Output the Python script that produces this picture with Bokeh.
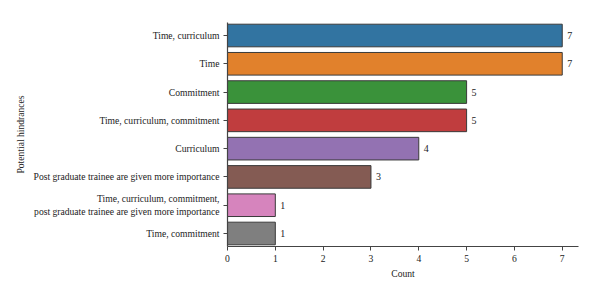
from bokeh.plotting import figure
from bokeh.models import ColumnDataSource, Range1d, FixedTicker, LabelSet
from bokeh.embed import file_html
from bokeh.resources import INLINE

# Reported hindrances and how many respondents named each one
hindrances = [
    "Time, curriculum",
    "Time",
    "Commitment",
    "Time, curriculum, commitment",
    "Curriculum",
    "Post graduate trainee are given more importance",
    "Time, curriculum, commitment,\npost graduate trainee are given more importance",
    "Time, commitment",
]
counts = [7, 7, 5, 5, 4, 3, 1, 1]
bar_colors = ["#3274a1", "#e1812c", "#3a923a", "#c03d3e",
              "#9372b2", "#845b53", "#d684bd", "#7f7f7f"]
count_ticks = [0, 1, 2, 3, 4, 5, 6, 7]

positions = list(range(len(hindrances)))
src = ColumnDataSource(dict(
    y=positions,
    count=counts,
    color=bar_colors,
    label=[str(c) for c in counts],
))

SERIF = "Liberation Serif"

p = figure(
    width=600, height=294,
    output_backend="svg", toolbar_location=None,
    x_range=Range1d(0, 7.34),
    y_range=Range1d(len(hindrances) - 0.54, -0.46),
    min_border_left=227, min_border_right=22,
    min_border_top=22, min_border_bottom=48,
)

p.hbar(y="y", right="count", left=0, height=0.8, source=src,
       fill_color="color", line_color="#3a3a3a", line_width=1)

p.add_layout(LabelSet(x="count", y="y", text="label", source=src,
                      x_offset=5, text_baseline="middle",
                      text_font=SERIF, text_font_size="10px",
                      text_color="#222222"))

p.xgrid.visible = False
p.ygrid.visible = False
p.outline_line_color = None
p.background_fill_color = "white"
p.border_fill_color = "white"

# y axis: category names
p.yaxis.ticker = FixedTicker(ticks=positions)
p.yaxis.major_label_overrides = {i: name for i, name in enumerate(hindrances)}
p.yaxis.minor_tick_line_color = None
p.yaxis.axis_label = "Potential hindrances"

# x axis: counts
p.xaxis.ticker = FixedTicker(ticks=count_ticks)
p.xaxis.minor_tick_line_color = None
p.xaxis.axis_label = "Count"

for ax in (p.xaxis[0], p.yaxis[0]):
    ax.axis_line_color = "#444444"
    ax.axis_line_width = 1.2
    ax.major_tick_line_color = "#444444"
    ax.major_tick_out = 4
    ax.major_tick_in = 0
    ax.major_label_text_font = SERIF
    ax.major_label_text_font_size = "9.6px"
    ax.major_label_text_color = "#222222"
    ax.axis_label_text_font = SERIF
    ax.axis_label_text_font_size = "9.6px"
    ax.axis_label_text_font_style = "normal"
    ax.axis_label_text_color = "#222222"
    ax.major_label_standoff = 4

p.xaxis.axis_label_standoff = 3
p.yaxis.axis_label_standoff = 5

open("out.html", "w").write(file_html(p, INLINE))
